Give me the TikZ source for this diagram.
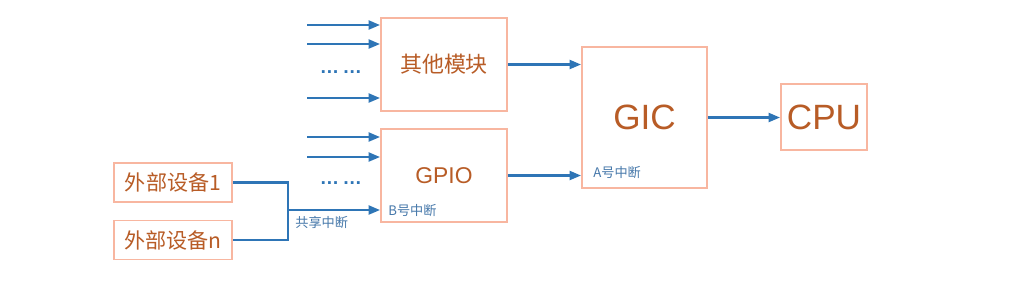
\documentclass[tikz,border=0pt]{standalone}
\usepackage{fontspec}
\setmainfont{Liberation Sans}
\newfontfamily\cjk{Noto Sans CJK SC}
\usetikzlibrary{positioning, arrows.meta, calc}
\definecolor{boxln}{RGB}{248,182,160}
\definecolor{txtbr}{RGB}{184,92,38}
\definecolor{arrbl}{RGB}{46,117,182}
\definecolor{lblbl}{RGB}{70,120,170}
\begin{document}
\begin{tikzpicture}[
  x=0.02cm, y=-0.02cm,
  >={Triangle[length=2.3mm,width=1.8mm]},
  modbox/.style={rectangle, draw=boxln, line width=1.1pt, fill=white,
                 text=txtbr, align=center, inner sep=0pt},
  arr/.style={->, line width=1.3pt, draw=arrbl},
  wire/.style={line width=1.3pt, draw=arrbl},
  irq/.style={text=lblbl, font=\cjk\fontsize{7.5}{9}\selectfont, inner sep=0pt},
  dots/.style={text=arrbl, font=\bfseries\fontsize{11}{13}\selectfont, inner sep=0pt}
]
\useasboundingbox (0,0) rectangle (1024,292);
% modules
\node[modbox, minimum width=2.52cm, minimum height=1.86cm,
      font=\cjk\fontsize{12.5}{15}\selectfont] (oth) at (444,64.5) {其他模块};
\node[modbox, minimum width=2.52cm, minimum height=1.86cm,
      font=\fontsize{13}{15}\selectfont] (gpio) at (444,175.5) {GPIO};
\node[modbox, minimum width=2.5cm, minimum height=2.82cm,
      font=\fontsize{20}{24}\selectfont] (gic) at (644.5,117.5) {GIC};
\node[modbox, minimum width=1.72cm, minimum height=1.32cm,
      font=\fontsize{20}{24}\selectfont] (cpu) at (824,117) {CPU};
\node[modbox, minimum width=2.36cm, minimum height=0.78cm,
      font=\cjk\fontsize{12}{14}\selectfont] (dev1) at (173,182.5) {外部设备1};
\node[modbox, minimum width=2.36cm, minimum height=0.78cm,
      font=\cjk\fontsize{12}{14}\selectfont] (devn) at (173,240) {外部设备n};
% inputs
\foreach \y/\n in {25/1, 44/2, 98/3} {
  \coordinate (oi\n) at (307,\y);
  \draw[arr] (oi\n) -- (oi\n -| oth.west);
}
\foreach \y/\n in {137/1, 157/2} {
  \coordinate (gi\n) at (307,\y);
  \draw[arr] (gi\n) -- (gi\n -| gpio.west);
}
\node[dots] (odots) at (341,72) {…\kern2pt…};
\node[dots] (gdots) at (341,183) {…\kern2pt…};
% shared interrupt
\coordinate (jn) at (288,210);
\draw[wire] (dev1.east) -| (jn) |- (devn.east);
\draw[arr] (jn) -- (jn -| gpio.west);
\node[irq, anchor=west] (shr) at (295,222) {共享中断};
\node[irq, anchor=west] (birq) at (388,211) {B号中断};
\node[irq, anchor=west] (airq) at (593,173) {A号中断};
% to GIC and CPU
\draw[arr] (oth.east) -- (oth.east -| gic.west);
\draw[arr] (gpio.east) -- (gpio.east -| gic.west);
\draw[arr] (gic.east) -- (gic.east -| cpu.west);
\end{tikzpicture}
\end{document}
